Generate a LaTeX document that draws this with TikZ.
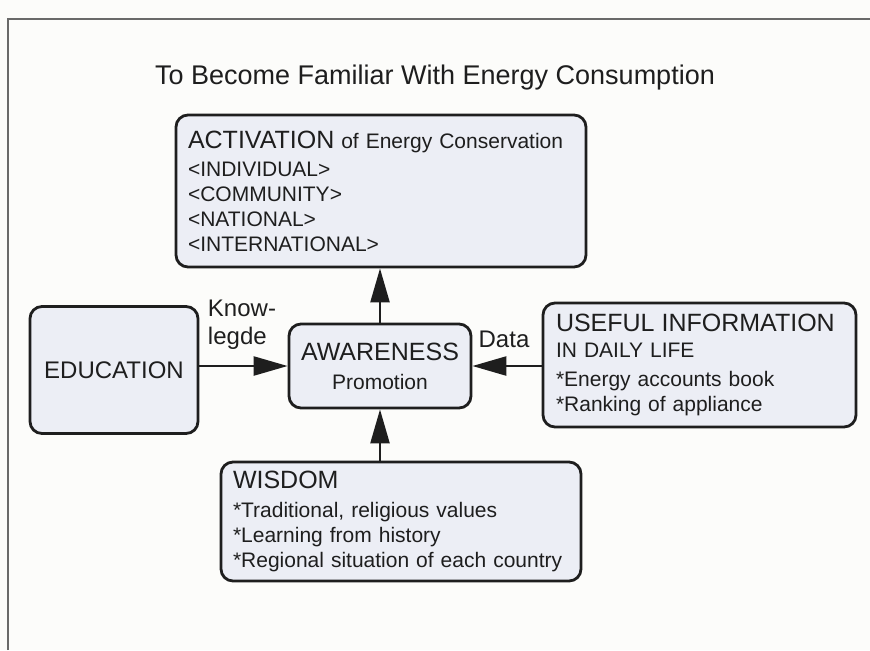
\documentclass[tikz,border=0pt]{standalone}
\usepackage{fontspec}
\setmainfont{Liberation Sans}
\usepackage{xcolor}
\definecolor{papel}{RGB}{252,252,250}
\definecolor{azulClaro}{RGB}{236,238,245}
\definecolor{negroSuave}{RGB}{30,30,30}
\definecolor{marco}{RGB}{105,105,105}
\usepackage{tikz}
\usetikzlibrary{arrows.meta,calc,positioning}
\tikzstyle{caja}    =[rectangle, rounded corners=6pt, draw=negroSuave,
                      fill=azulClaro, line width=1.4pt, text=negroSuave,
                      inner xsep=6pt, inner ysep=0pt]
\tikzstyle{flecha}  =[-{Triangle[length=17pt,width=9.5pt]},
                      line width=1.2pt, negroSuave]
\tikzstyle{etiqueta}=[text=negroSuave, inner sep=0pt, align=left,
                      font=\fontsize{12}{14}\selectfont]
\newcommand{\cabeza}[1]{{\fontsize{12.5}{15}\selectfont #1}}
\newcommand{\cuerpo}{\fontsize{10.5}{12.5}\selectfont}

\begin{document}
\begin{tikzpicture}[x=0.5pt,y=-0.5pt]
    \fill [papel] (0,0) rectangle (870,650);
    \useasboundingbox (0,0) rectangle (870,650);
    \draw [marco, line width=0.6pt] (8,650) -- (8,19) -- (870,19);

    \draw (435,78) node (titulo) [text=negroSuave, font=\fontsize{13.5}{16}\selectfont]
        {To Become Familiar With Energy Consumption};

    % cajas
    \draw (381,191) node (act) [caja, minimum width=205pt, minimum height=76pt,
        text width=193pt, align=left, font=\cuerpo]
        {\cabeza{ACTIVATION} of Energy Conservation\\[1.5pt]
         <INDIVIDUAL>\\ <COMMUNITY>\\ <NATIONAL>\\ <INTERNATIONAL>};
    \draw (114,370) node (edu) [caja, minimum width=84pt, minimum height=63.5pt,
        font=\fontsize{12}{14}\selectfont] {EDUCATION};
    \draw (380,366) node (awr) [caja, minimum width=91pt, minimum height=42pt,
        align=center, font=\cuerpo]
        {\cabeza{AWARENESS}\\[2pt] Promotion};
    \draw (699.5,365) node (info) [caja, minimum width=156.5pt, minimum height=62pt,
        text width=143.5pt, align=left, font=\cuerpo]
        {\cabeza{USEFUL INFORMATION}\\[0.5pt] IN DAILY LIFE\\[2pt]
         {*}Energy accounts book\\ {*}Ranking of appliance};
    \draw (401,521.5) node (wis) [caja, minimum width=180pt, minimum height=59.5pt,
        text width=168pt, align=left, font=\cuerpo]
        {\cabeza{WISDOM}\\[2pt] {*}Traditional, religious values\\
         {*}Learning from history\\ {*}Regional situation of each country};

    % etiquetas
    \draw (242,325) node (know) [etiqueta] {Know-\\legde};
    \draw (504,339) node (data) [etiqueta] {Data};

    % flechas
    \draw [flecha] (awr.north) -- (awr.north |- act.south);
    \draw [flecha] (edu.east |- awr.west) -- (awr.west);
    \draw [flecha] (info.west |- awr.east) -- (awr.east);
    \draw [flecha] (awr.south |- wis.north) -- (awr.south);
\end{tikzpicture}
\end{document}
